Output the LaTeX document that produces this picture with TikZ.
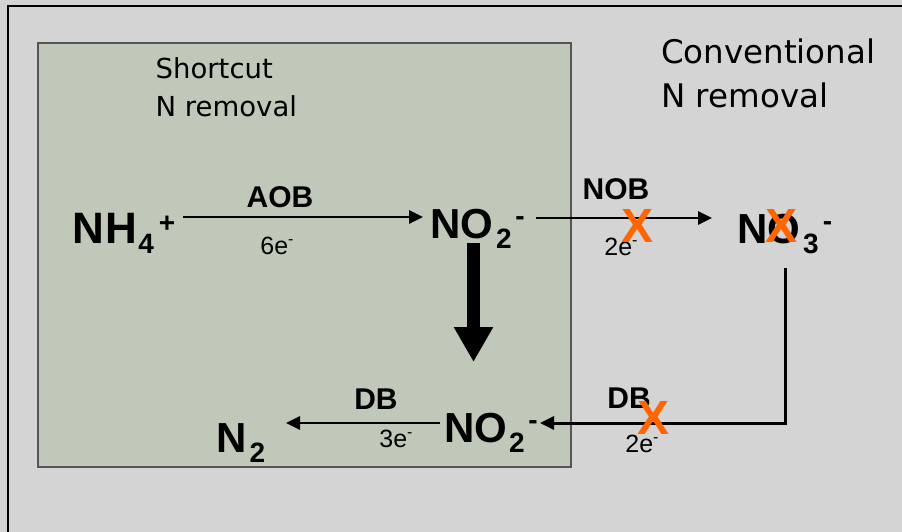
\documentclass[tikz,border=0pt]{standalone}
\usepackage{fontspec}
\setmainfont{DejaVu Sans}
\newfontfamily\arialf{Liberation Sans}
\usetikzlibrary{arrows.meta}
\definecolor{bgc}{RGB}{212,212,212}
\definecolor{boxc}{RGB}{191,200,185}
\definecolor{boxb}{RGB}{85,85,85}
\definecolor{xorange}{RGB}{255,102,0}
\newcommand{\csub}[2][1pt]{\kern#1\raisebox{-10pt}{\fontsize{28}{28}\selectfont #2}}
\newcommand{\csup}[2][3pt]{\kern#1\raisebox{12.5pt}{\fontsize{28}{28}\selectfont #2}}
\newcommand{\cplus}[1][5pt]{\kern#1\raisebox{11pt}{\fontsize{28}{28}\selectfont +}}
\newcommand{\eminus}{\raisebox{9.5pt}{\fontsize{16}{16}\selectfont -}}
\begin{document}
\begin{tikzpicture}[x=1pt,y=-1pt,
  chem/.style={anchor=base west, inner sep=0pt, font=\arialf\bfseries\fontsize{42}{42}\selectfont},
  bact/.style={anchor=base, inner sep=0pt, font=\arialf\bfseries\fontsize{30}{30}\selectfont},
  elab/.style={anchor=base, inner sep=0pt, font=\arialf\fontsize{25}{25}\selectfont},
  titletext/.style={anchor=base west, inner sep=0pt},
  crossx/.style={inner sep=0pt, text=xorange, font=\arialf\bfseries\fontsize{48}{48}\selectfont},
  flowarrow/.style={line width=2.8pt, -{Triangle[length=14pt,width=13pt]}},
]
\useasboundingbox (0,0) rectangle (902,532);
\fill[bgc] (0,0) rectangle (902,532);
\draw[line width=2.5pt] (8,532) -- (8,6) -- (902,6);
\draw[boxb, line width=1.5pt, fill=boxc] (38,43) rectangle (571,467);

% titles
\node[titletext, font=\fontsize{27.5}{27.5}\selectfont] (sc1) at (155.5,79) {Shortcut};
\node[titletext, font=\fontsize{27.5}{27.5}\selectfont] (sc2) at (155.5,117) {N removal};
\node[titletext, font=\fontsize{32.5}{32.5}\selectfont] (cv1) at (661,64) {Conventional};
\node[titletext, font=\fontsize{32.5}{32.5}\selectfont] (cv2) at (661,108) {N removal};

% species
\node[chem, font=\arialf\bfseries\fontsize{44}{44}\selectfont] (nh4) at (72,243) {N\kern1.5pt H\csub{4}\cplus};
\node[chem] (no2a) at (430,238) {NO\csub[3pt]{2}\csup[3.5pt]{-}};
\node[chem] (no3) at (737,243) {NO\csub[3pt]{3}\csup[4pt]{-}};
\node[chem] (no2b) at (444,442) {NO\csub[2pt]{2}\csup[3.5pt]{-}};
\node[chem] (n2) at (216,452) {N\csub[3pt]{2}};

% organism labels
\node[bact] (aob) at (280,207) {AOB};
\node[bact] (nob) at (616,199) {NOB};
\node[bact] (db1) at (376,409) {DB};
\node[bact] (db2) at (629,408) {DB};

% electron labels
\node[elab] (e6) at (277,254) {6e\eminus};
\node[elab] (e2a) at (621,255) {2e\eminus};
\node[elab] (e3) at (396,447) {3e\eminus};
\node[elab] (e2b) at (642,452) {2e\eminus};

% connector end points
\coordinate (aobS) at (183,217);
\coordinate (aobE) at (423,217);
\coordinate (nobS) at (536,218);
\coordinate (nobE) at (712,218);
\coordinate (dS) at (473.5,243);
\coordinate (dE) at (473.5,362);
\coordinate (rS) at (785,268);
\coordinate (rC) at (785,423);
\coordinate (rE) at (540,423);
\coordinate (dbS) at (440,423);
\coordinate (dbE) at (286,423);

\draw[flowarrow] (aobS) -- (aobE);
\draw[flowarrow] (nobS) -- (nobE);
\draw[line width=13pt, -{Triangle[length=35pt,width=37pt]}] (dS) -- (dE);
\draw[flowarrow, line width=3pt] (rS) -- (rC) -- (rE);
\draw[flowarrow] (dbS) -- (dbE);

% crosses
\node[crossx] (x1) at (637,226) {X};
\node[crossx] (x2) at (781,226) {X};
\node[crossx] (x3) at (653,418) {X};
\end{tikzpicture}
\end{document}
